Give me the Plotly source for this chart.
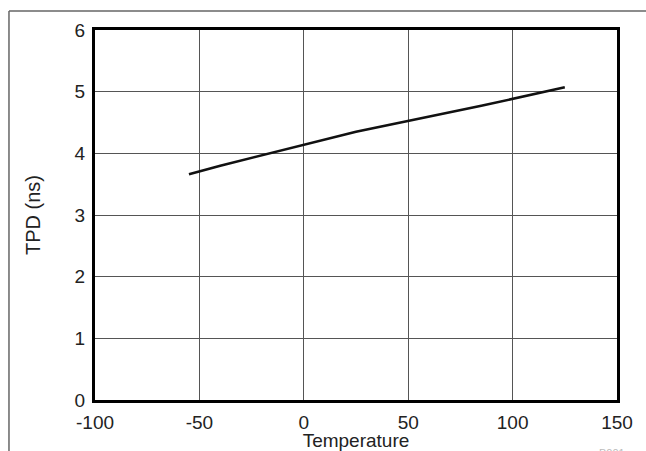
import plotly.graph_objects as go

temperature = [-55, -40, 25, 85, 125]
tpd_ns = [3.66, 3.80, 4.35, 4.77, 5.07]

x_tick_vals = [-100, -50, 0, 50, 100, 150]
x_tick_text = ["-100", "-50", "0", "50", "100", "150"]
y_tick_vals = [0, 1, 2, 3, 4, 5, 6]
y_tick_text = ["0", "1", "2", "3", "4", "5", "6"]

fig = go.Figure()
fig.add_trace(go.Scatter(
    x=temperature, y=tpd_ns, mode="lines",
    line=dict(color="#111111", width=2.6),
    showlegend=False, hoverinfo="skip",
))

font_family = "Liberation Sans, Arial, sans-serif"

fig.update_layout(
    width=646, height=451,
    margin=dict(l=95, r=29, t=30, b=51),
    paper_bgcolor="white", plot_bgcolor="white",
    font=dict(family=font_family, color="#222222", size=19),
    xaxis=dict(
        range=[-100, 150], tickvals=x_tick_vals, ticktext=x_tick_text, ticks="",
        showgrid=True, gridcolor="#555555", gridwidth=1,
        showline=True, linecolor="black", linewidth=3, mirror=True,
        zeroline=False, tickfont=dict(size=19), ticklabelstandoff=3,
        automargin=False,
        title=dict(text="Temperature", font=dict(size=19), standoff=2),
    ),
    yaxis=dict(
        range=[0, 6], tickvals=y_tick_vals, ticktext=y_tick_text, ticks="",
        showgrid=True, gridcolor="#555555", gridwidth=1,
        showline=True, linecolor="black", linewidth=3, mirror=True,
        zeroline=False, tickfont=dict(size=19), ticklabelstandoff=3,
        automargin=False,
        title=dict(text="TPD (ns)", font=dict(size=20), standoff=29),
    ),
    shapes=[
        dict(type="line", xref="paper", yref="paper",
             x0=-0.1648, x1=1.3, y0=1.0514, y1=1.0514,
             line=dict(color="#666666", width=1.5)),
        dict(type="line", xref="paper", yref="paper",
             x0=-0.1648, x1=-0.1648, y0=1.0514, y1=-0.3,
             line=dict(color="#666666", width=1.5)),
    ],
    annotations=[
        dict(text="B001", xref="paper", yref="paper", x=0.962, y=-0.122,
             xanchor="left", yanchor="top", showarrow=False,
             font=dict(size=11, color="#bbbbbb")),
    ],
)

fig.write_html("out.html", config={"displayModeBar": False},
               post_script="document.body.style.margin='0';document.body.style.overflow='hidden';")
